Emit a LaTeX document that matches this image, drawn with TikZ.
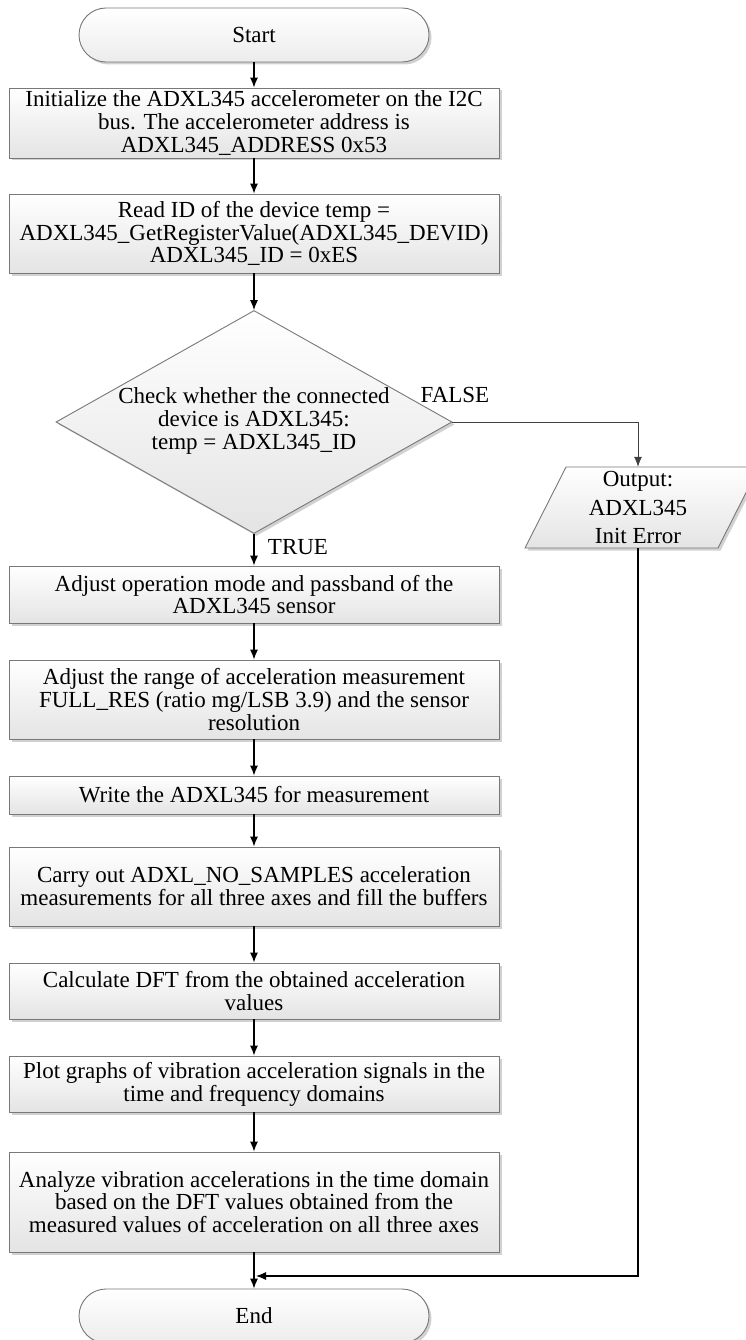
\documentclass[tikz,border=0pt]{standalone}
\usepackage{fontspec}
\setmainfont{Liberation Serif}
\usetikzlibrary{arrows.meta,shadows,shapes.geometric}
\definecolor{bordergray}{RGB}{120,120,120}
\definecolor{boxbot}{RGB}{228,228,228}
\begin{document}
\begin{tikzpicture}[x=1pt,y=-1pt,
  txtfont/.style={font=\fontsize{23}{22.8}\selectfont},
  shd/.style={drop shadow={shadow xshift=2.5pt,shadow yshift=-2.5pt,fill=black,opacity=0.18}},
  box/.style={draw=bordergray,line width=0.9pt,top color=white,bottom color=boxbot,
    minimum width=490pt,align=center,inner sep=0pt,txtfont,shd},
  term/.style={draw=bordergray,line width=0.9pt,top color=white,bottom color=boxbot!70!white,
    rounded corners=27pt,minimum width=350pt,minimum height=54pt,inner sep=0pt,txtfont,shd},
  dia/.style={draw=bordergray,line width=0.9pt,top color=white,bottom color=boxbot,
    shape=diamond,minimum width=396pt,minimum height=223pt,inner sep=0pt,shd},
  lbl/.style={txtfont,inner sep=0pt},
  arr/.style={line width=1.1pt,-{Latex[length=10pt,width=8pt]}},
  arrg/.style={line width=0.8pt,draw=black!75,-{Latex[length=10pt,width=8pt]}}
]
\useasboundingbox (0,0) rectangle (746,1340);
\fill[white] (0,0) rectangle (746,1340);

\node[term] (start) at (254,35) {Start};
\node[box,minimum height=70pt] (b1) at (254,123) {Initialize the ADXL345 accelerometer on the I2C\\bus. The accelerometer address is\\ADXL345\_ADDRESS 0x53};
\node[box,minimum height=79pt] (b2) at (254,233.5) {Read ID of the device temp =\\ADXL345\_GetRegisterValue(ADXL345\_DEVID)\\ADXL345\_ID = 0xES};
\node[dia] (dec) at (254,422) {};
\node[lbl,align=center] (dectxt) at (254,421) {Check whether the connected\\device is ADXL345:\\temp = ADXL345\_ID};
\node[lbl] (false) at (455,395) {FALSE};
\node[lbl] (true) at (298,547) {TRUE};

% output parallelogram
\path[draw=bordergray,line width=0.9pt,top color=white,bottom color=boxbot,shd]
  (525,548) -- (718,548) -- (759,467) -- (566,467) -- cycle;
\node[inner sep=0pt,minimum width=190pt,minimum height=81pt,align=center,
  font=\fontsize{23}{28.5}\selectfont] (out) at (638,507.5) {Output:\\ADXL345\\Init Error};

\node[box,minimum height=57pt] (b3) at (254,594.5) {Adjust operation mode and passband of the\\ADXL345 sensor};
\node[box,minimum height=79pt] (b4) at (254,699.5) {Adjust the range of acceleration measurement\\FULL\_RES (ratio mg/LSB 3.9) and the sensor\\resolution};
\node[box,minimum height=38pt] (b5) at (254,795) {Write the ADXL345 for measurement};
\node[box,minimum height=79pt] (b6) at (254,886.5) {Carry out ADXL\_NO\_SAMPLES acceleration\\measurements for all three axes and fill the buffers};
\node[box,minimum height=56pt] (b7) at (254,991) {Calculate DFT from the obtained acceleration\\values};
\node[box,minimum height=56pt] (b8) at (254,1084) {Plot graphs of vibration acceleration signals in the\\time and frequency domains};
\node[box,minimum height=100pt] (b9) at (254,1202) {Analyze vibration accelerations in the time domain\\based on the DFT values obtained from the\\measured values of acceleration on all three axes};
\node[term] (end) at (254,1316) {End};
\coordinate (join) at (256,1276);

\draw[arr] (start) -- (b1);
\draw[arr] (b1) -- (b2);
\draw[arr] (b2) -- (dec);
\draw[arrg] (dec.east) -| (out.north);
\draw[arr] (dec.south) -- (b3.north);
\draw[arr] (b3) -- (b4);
\draw[arr] (b4) -- (b5);
\draw[arr] (b5) -- (b6);
\draw[arr] (b6) -- (b7);
\draw[arr] (b7) -- (b8);
\draw[arr] (b8) -- (b9);
\draw[arr] (b9) -- (end);
\draw[arr] (out.south) |- (join);
\end{tikzpicture}
\end{document}
